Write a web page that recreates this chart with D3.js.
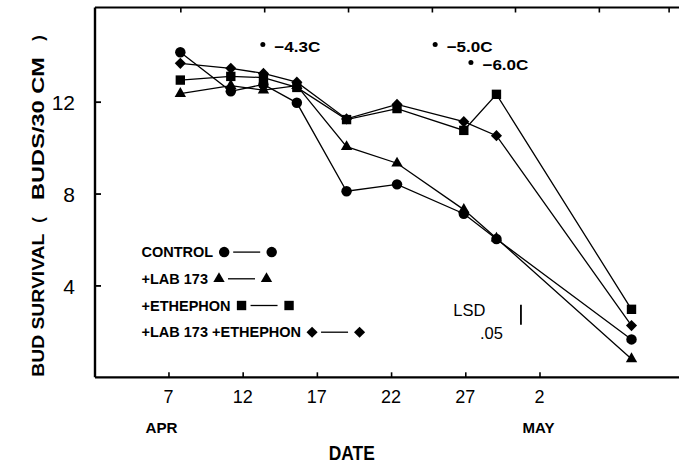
<!DOCTYPE html>
<html>
<head>
<meta charset="utf-8">
<script src="https://cdn.jsdelivr.net/npm/d3@7"></script>
<style>
  html, body { margin: 0; padding: 0; background: #fff; }
  svg { display: block; font-family: "Liberation Sans", Arial, sans-serif; }
</style>
</head>
<body>
<svg id="chart" width="679" height="464"></svg>
<script>
// ---- data (x in days from 1 April; 2 May = day 32) ----
const sampleDays   = [7.8, 11.2, 13.4, 15.65, 19.0, 22.4, 26.9, 29.1, 38.2];
const control      = [14.15, 12.45, 12.75, 11.95, 8.1, 8.4, 7.12, 6.02, 1.65];
const lab173       = [12.35, 12.7, 12.5, 12.7, 10.04, 9.32, 7.3, 6.05, 0.8];
const ethephon     = [12.94, 13.1, 13.05, 12.62, 11.22, 11.7, 10.75, 12.32, 2.96];
const labEthephon  = [13.67, 13.45, 13.23, 12.85, 11.25, 11.88, 11.13, 10.52, 2.25];
const seriesNames  = ["CONTROL", "+LAB 173", "+ETHEPHON", "+LAB 173 +ETHEPHON"];
const seriesMarks  = ["circle", "triangle", "square", "diamond"];

const xTickValues  = [7, 12, 17, 22, 27, 32];
const xTickLabels  = ["7", "12", "17", "22", "27", "2"];
const monthDays    = [7, 32];
const monthLabels  = ["APR", "MAY"];
const topTickDays  = [7.8, 13.45, 19.1, 24.75, 30.35, 36.0, 40.7];
const yTickValues  = [4, 8, 12];
const yTitleParts  = ["BUD SURVIVAL", "(", "BUDS/30 CM", ")"];

const freezeDays   = [13.36, 24.97, 27.38];
const freezeLevels = [14.49, 14.49, 13.71];
const freezeLabels = ["\u22124.3C", "\u22125.0C", "\u22126.0C"];

const lsdDay = 30.75, lsdCenter = 2.72, lsdValue = 0.87;

// ---- layout ----
const svg = d3.select("#chart");
const plotL = 95, plotR = 679, plotT = 7.5, plotB = 377.3;
const x = d3.scaleLinear().domain([2.05, 41.4]).range([plotL, plotR]);
const y = d3.scaleLinear().domain([0, 16.1]).range([plotB, plotT]);

const seriesValues = [control, lab173, ethephon, labEthephon];
const series = seriesNames.map((name, i) => ({
  name, mark: seriesMarks[i],
  points: sampleDays.map((d, j) => ({ d, v: seriesValues[i][j] }))
}));

function markPath(mark) {
  if (mark === "circle") return d3.symbol(d3.symbolCircle, 86)();
  if (mark === "triangle") return d3.symbol(d3.symbolTriangle, 56)();
  if (mark === "square") return d3.symbol(d3.symbolSquare, 88)();
  return d3.symbol(d3.symbolSquare, 62)();
}
function markRotate(mark) { return mark === "diamond" ? " rotate(45)" : ""; }

// ---- axes frame ----
const g = svg.append("g");
const xAxis = d3.axisBottom(x).tickValues(xTickValues).tickSize(-5).tickFormat("");
g.append("g").attr("transform", `translate(0,${plotB})`).call(xAxis)
  .call(s => s.select(".domain").attr("stroke-width", 2.2).attr("d", `M${plotL},0H${plotR}`))
  .call(s => s.selectAll(".tick line").attr("stroke-width", 1.6));
const xTop = d3.axisTop(x).tickValues(topTickDays).tickSize(-5).tickFormat("");
g.append("g").attr("transform", `translate(0,${plotT})`).call(xTop)
  .call(s => s.select(".domain").attr("stroke-width", 2).attr("d", `M${plotL},0H${plotR}`))
  .call(s => s.selectAll(".tick line").attr("stroke-width", 1.6));
const yAxis = d3.axisLeft(y).tickValues(yTickValues).tickSize(-6).tickFormat("");
g.append("g").attr("transform", `translate(${plotL},0)`).call(yAxis)
  .call(s => s.select(".domain").attr("stroke-width", 2.4).attr("d", `M0,${plotB}V${plotT}`))
  .call(s => s.selectAll(".tick line").attr("stroke-width", 1.8));

// y tick labels
svg.append("g").selectAll("text").data(yTickValues).join("text")
  .attr("x", 75).attr("y", d => y(d) + 8.5)
  .attr("text-anchor", "end").attr("font-size", 21)
  .text(d => d);

// x tick labels
svg.append("g").selectAll("text").data(xTickValues).join("text")
  .attr("x", d => x(d)).attr("y", plotB + 26)
  .attr("text-anchor", "middle").attr("font-size", 18)
  .text((d, i) => xTickLabels[i]);

// month labels
svg.append("g").selectAll("text").data(monthDays).join("text")
  .attr("x", (d, i) => x(d) - (i === 0 ? 7 : 1)).attr("y", plotB + 55.4)
  .attr("text-anchor", "middle").attr("font-size", 15.5).attr("font-weight", "bold")
  .attr("textLength", 32).attr("lengthAdjust", "spacingAndGlyphs")
  .text((d, i) => monthLabels[i]);

// axis titles
svg.append("text").attr("x", 351.8).attr("y", 460)
  .attr("text-anchor", "middle").attr("font-size", 20).attr("font-weight", "bold")
  .attr("textLength", 46).attr("lengthAdjust", "spacingAndGlyphs")
  .text("DATE");
// rotated y title, drawn in pieces (position along the rotated baseline, and fitted length)
const yTitleLayout = [{ c: -305.2, len: 143 }, { c: -220, len: 0 }, { c: -128.5, len: 143 }, { c: -38, len: 0 }];
const yTitle = svg.append("g").attr("transform", "translate(43.8,0) rotate(-90)");
yTitleParts.forEach((t, i) => {
  const el = yTitle.append("text").attr("x", yTitleLayout[i].c).attr("y", 0)
    .attr("text-anchor", "middle").attr("font-size", 16.5).attr("font-weight", "bold").text(t);
  if (yTitleLayout[i].len) el.attr("textLength", yTitleLayout[i].len).attr("lengthAdjust", "spacingAndGlyphs");
});

// ---- series lines and marks ----
const line = d3.line().x(p => x(p.d)).y(p => y(p.v));
const sg = svg.append("g");
sg.selectAll("path.series").data(series).join("path")
  .attr("class", "series").attr("d", s => line(s.points))
  .attr("fill", "none").attr("stroke", "#000").attr("stroke-width", 1.3);
series.forEach(s => {
  sg.append("g").selectAll("path").data(s.points).join("path")
    .attr("d", markPath(s.mark))
    .attr("transform", p => `translate(${x(p.d)},${y(p.v)})${markRotate(s.mark)}`)
    .attr("fill", "#000");
});

// ---- freeze annotations ----
const fg = svg.append("g");
freezeDays.forEach((d, i) => {
  fg.append("circle").attr("cx", x(d)).attr("cy", y(freezeLevels[i])).attr("r", 2.5).attr("fill", "#000");
  fg.append("text").attr("x", x(d) + 11.5).attr("y", y(freezeLevels[i]) + 7.5)
    .attr("font-size", 15).attr("font-weight", "bold")
    .attr("textLength", 46).attr("lengthAdjust", "spacingAndGlyphs")
    .text(freezeLabels[i]);
});

// ---- legend ----
const lg = svg.append("g");
const legendX = 141.5, legendY0 = 257.3, legendStep = 26.7;
series.forEach((s, i) => {
  const by = legendY0 + i * legendStep;
  const t = lg.append("text").attr("x", legendX).attr("y", by)
    .attr("font-size", 14.5).attr("font-weight", "bold").text(s.name);
  const end = legendX + t.node().getComputedTextLength();
  const cy = by - 5.2;
  const s1 = end + 11, s2 = s1 + 47.5;
  lg.append("line").attr("x1", s1 + 9).attr("x2", s1 + 36).attr("y1", cy).attr("y2", cy)
    .attr("stroke", "#000").attr("stroke-width", 1.3);
  [s1, s2].forEach(cx => {
    lg.append("path").attr("d", markPath(s.mark))
      .attr("transform", `translate(${cx},${cy})${markRotate(s.mark)}`).attr("fill", "#000");
  });
});

// ---- LSD bar ----
svg.append("line")
  .attr("x1", x(lsdDay)).attr("x2", x(lsdDay))
  .attr("y1", y(lsdCenter + lsdValue / 2)).attr("y2", y(lsdCenter - lsdValue / 2))
  .attr("stroke", "#000").attr("stroke-width", 1.8);
svg.append("text").attr("x", x(lsdDay) - 35.5).attr("y", y(lsdCenter) + 1)
  .attr("text-anchor", "end").attr("font-size", 16.5).text("LSD");
svg.append("text").attr("x", x(lsdDay) - 18).attr("y", y(lsdCenter) + 24.3)
  .attr("text-anchor", "end").attr("font-size", 16.5).text(".05");
</script>
</body>
</html>
